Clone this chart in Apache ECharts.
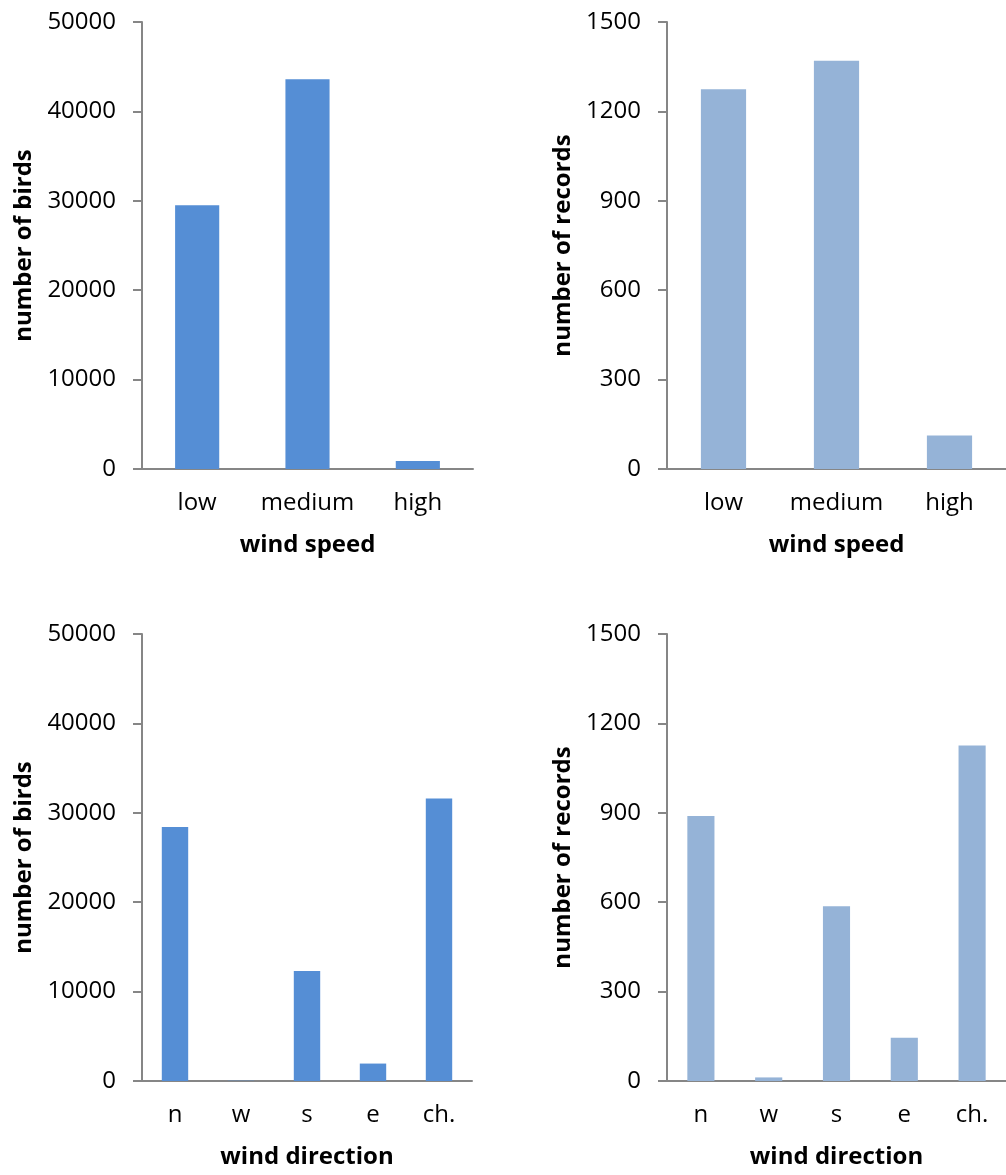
<!DOCTYPE html>
<html>
<head>
<meta charset="utf-8">
<title>wind speed / direction</title>
<script src="https://cdn.jsdelivr.net/npm/echarts@6/dist/echarts.min.js"></script>
<style>
    html, body { margin: 0; padding: 0; background: #fff; }
    #birdChart { width: 1006px; height: 1175px; }
</style>
</head>
<body>
<div id="birdChart"></div>
<script>
// 数据
let speedCats = ['low', 'medium', 'high'];
let speedBirds = [29500, 43600, 900];
let speedRecords = [1274, 1370, 112];

let dirCats = ['n', 'w', 's', 'e', 'ch.'];
let dirBirds = [28400, 30, 12300, 1950, 31600];
let dirRecords = [889, 12, 586, 145, 1126];

let birdsAxis = { max: 50000, step: 10000 };
let recordsAxis = { max: 1500, step: 300 };

let axisGray = '#868686';
let fontName = '"Open Sans", sans-serif';

function xAxisOpt(gridIndex, cats, name) {
    return {
        type: 'category',
        gridIndex: gridIndex,
        data: cats,
        name: name,
        nameLocation: 'middle',
        nameGap: 64,
        nameTextStyle: { fontFamily: fontName, fontSize: 24, fontWeight: 'bold', color: '#000' },
        axisLine: { lineStyle: { color: axisGray, width: 2 } },
        axisTick: { length: 8, lineStyle: { color: axisGray, width: 2 } },
        axisLabel: { fontFamily: fontName, fontSize: 24, color: '#000', margin: 22, interval: 0 }
    };
}

function yAxisOpt(gridIndex, range, name, gap) {
    return {
        type: 'value',
        gridIndex: gridIndex,
        min: 0,
        max: range.max,
        interval: range.step,
        name: name,
        nameLocation: 'middle',
        nameRotate: 90,
        nameGap: gap,
        nameTextStyle: { fontFamily: fontName, fontSize: 24, fontWeight: 'bold', color: '#000' },
        axisLine: { show: true, lineStyle: { color: axisGray, width: 2 } },
        axisTick: { show: true, length: 9, lineStyle: { color: axisGray, width: 2 } },
        axisLabel: {
            fontFamily: fontName, fontSize: 24, color: '#000', margin: 26,
            formatter: function (v) { return String(v); }
        },
        splitLine: { show: false }
    };
}

function barSeries(index, values, color) {
    return {
        type: 'bar',
        xAxisIndex: index,
        yAxisIndex: index,
        data: values,
        barWidth: '40%',
        itemStyle: { color: color },
        silent: true
    };
}

let option = {
    animation: false,
    backgroundColor: '#fff',
    grid: [
        { left: 142, top: 22, width: 331, height: 447 },
        { left: 667, top: 22, width: 344, height: 447 },
        { left: 142, top: 634, width: 330, height: 447 },
        { left: 667, top: 634, width: 344, height: 447 }
    ],
    xAxis: [
        xAxisOpt(0, speedCats, 'wind speed'),
        xAxisOpt(1, speedCats, 'wind speed'),
        xAxisOpt(2, dirCats, 'wind direction'),
        xAxisOpt(3, dirCats, 'wind direction')
    ],
    yAxis: [
        yAxisOpt(0, birdsAxis, 'number of birds', 106),
        yAxisOpt(1, recordsAxis, 'number of records', 92),
        yAxisOpt(2, birdsAxis, 'number of birds', 106),
        yAxisOpt(3, recordsAxis, 'number of records', 92)
    ],
    series: [
        barSeries(0, speedBirds, '#558ed5'),
        barSeries(1, speedRecords, '#95b3d7'),
        barSeries(2, dirBirds, '#558ed5'),
        barSeries(3, dirRecords, '#95b3d7')
    ]
};

let birdChart = echarts.init(document.getElementById('birdChart'));
birdChart.setOption(option);
</script>
</body>
</html>
